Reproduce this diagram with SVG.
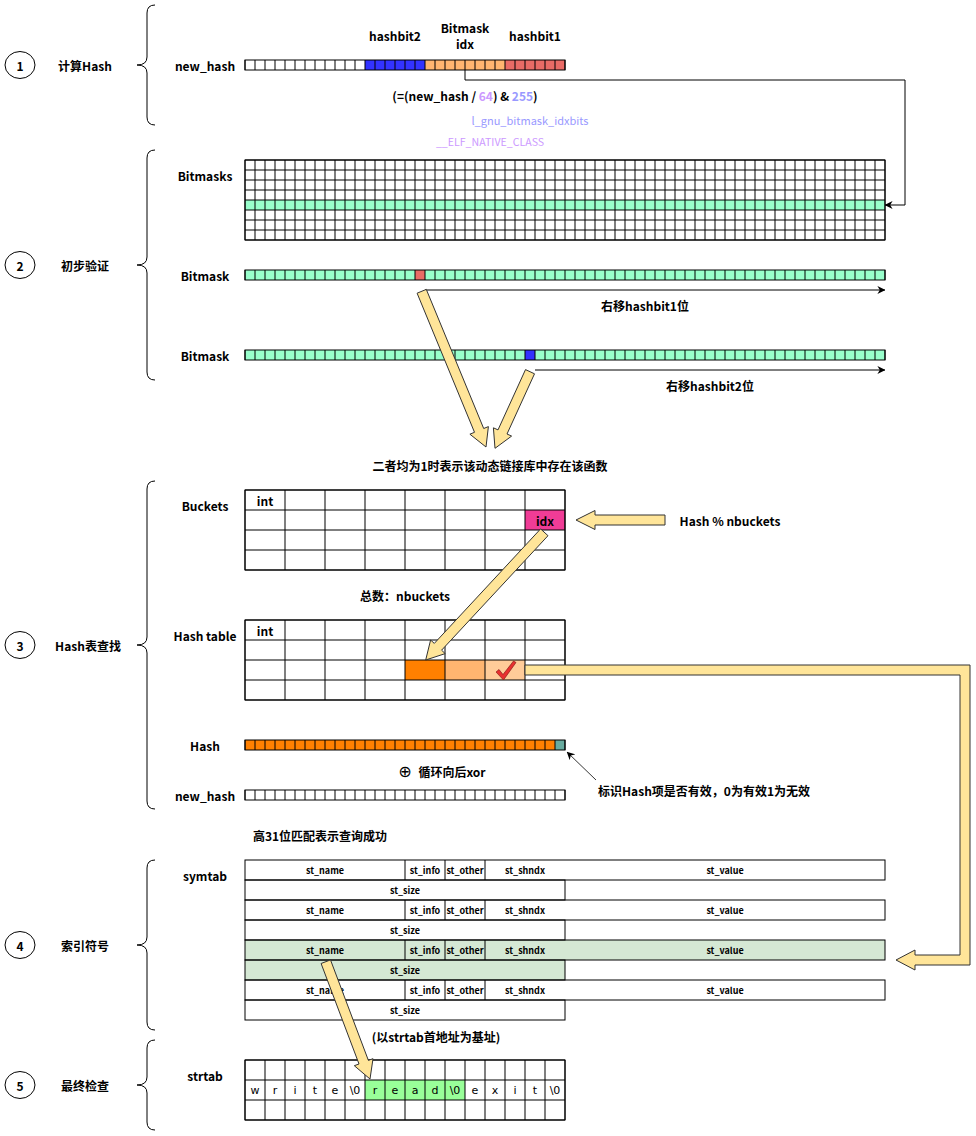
<svg xmlns="http://www.w3.org/2000/svg" width="976" height="1136" viewBox="0 0 976 1136">
<defs>
<style>
.lb{font-family:"Noto Sans CJK SC","Noto Sans",sans-serif;font-weight:bold;font-size:12px;fill:#000;text-anchor:middle;dominant-baseline:central}
.s12{font-size:12px}
.st{font-size:9px}
.lt{font-weight:normal;font-size:11px}
.ch{font-family:"DejaVu Sans",sans-serif;font-weight:normal;font-size:11px}
.ln{fill:none;stroke:#000;stroke-width:1}
.tk{fill:none;stroke:#000}
.thin{fill:none;stroke:#000;stroke-width:0.8}
.arw{fill:#ffe599;stroke:#333;stroke-width:1}
.br{fill:none;stroke:#000;stroke-width:1}
.circ{fill:#fff;stroke:#000;stroke-width:1}
</style>
<marker id="ah" viewBox="0 0 10 10" refX="9.5" refY="5" markerWidth="8" markerHeight="8" markerUnits="userSpaceOnUse" orient="auto"><path d="M0,0 L10,5 L0,10 L3,5 z" fill="#000"/></marker>
</defs>
<rect width="976" height="1136" fill="#fff"/>

<!-- step labels -->
<g id="step1">
<ellipse class="circ" cx="20" cy="65" rx="15" ry="13.5"/><text class="lb" x="20" y="65">1</text>
<text class="lb" x="85" y="65">计算Hash</text>
<path class="br" d="M155,5 Q147,5 147,13 L147,57 Q147,65 137,65 Q147,65 147,73 L147,117 Q147,125 155,125"/>
</g>
<g id="step2">
<ellipse class="circ" cx="20" cy="265" rx="15" ry="13.5"/><text class="lb" x="20" y="265">2</text>
<text class="lb" x="85" y="265">初步验证</text>
<path class="br" d="M155,150 Q147,150 147,158 L147,257 Q147,265 137,265 Q147,265 147,273 L147,372 Q147,380 155,380"/>
</g>
<g id="step3">
<ellipse class="circ" cx="20" cy="645" rx="15" ry="13.5"/><text class="lb" x="20" y="645">3</text>
<text class="lb" x="88" y="645">Hash表查找</text>
<path class="br" d="M155,481 Q147,481 147,489 L147,637 Q147,645 137,645 Q147,645 147,653 L147,801 Q147,809 155,809"/>
</g>
<g id="step4">
<ellipse class="circ" cx="20" cy="945" rx="15" ry="13.5"/><text class="lb" x="20" y="945">4</text>
<text class="lb" x="85" y="945">索引符号</text>
<path class="br" d="M155,860 Q147,860 147,868 L147,937 Q147,945 137,945 Q147,945 147,953 L147,1022 Q147,1030 155,1030"/>
</g>
<g id="step5">
<ellipse class="circ" cx="20" cy="1085" rx="15" ry="13.5"/><text class="lb" x="20" y="1085">5</text>
<text class="lb" x="85" y="1085">最终检查</text>
<path class="br" d="M155,1040 Q147,1040 147,1048 L147,1077 Q147,1085 137,1085 Q147,1085 147,1093 L147,1122 Q147,1130 155,1130"/>
</g>

<!-- step 1: new_hash -->
<g id="new_hash_1">
<text class="lb" x="205" y="65">new_hash</text>
<rect x="245" y="60" width="120" height="10" fill="#fff"/>
<rect x="365" y="60" width="60" height="10" fill="#3333ff"/>
<rect x="425" y="60" width="80" height="10" fill="#ffb570"/>
<rect x="505" y="60" width="60" height="10" fill="#ea6b66"/>
<line class="tk" x1="244.5" y1="65" x2="565.5" y2="65" stroke-width="10" stroke-dasharray="1 9"/>
<rect class="ln" x="245" y="60" width="320" height="10"/>
<text class="lb" x="395" y="35">hashbit2</text>
<text class="lb" x="465" y="27">Bitmask</text>
<text class="lb" x="465" y="43">idx</text>
<text class="lb" x="535" y="35">hashbit1</text>
<text class="lb" x="465" y="95">(=(new_hash / <tspan fill="#cc99ff">64</tspan>) &amp; <tspan fill="#9999ff">255</tspan>)</text>
<text class="lb lt" x="530" y="120" style="fill:#9999ff">l_gnu_bitmask_idxbits</text>
<text class="lb lt" x="490" y="141" style="fill:#cc99ff;font-size:10.6px">__ELF_NATIVE_CLASS</text>
</g>

<!-- step 2 -->
<g id="bitmasks">
<text class="lb" x="205" y="175">Bitmasks</text>
<rect x="245" y="200" width="640" height="10" fill="#99ffcc"/>
<line class="tk" x1="244.5" y1="200" x2="885.5" y2="200" stroke-width="80" stroke-dasharray="1 9"/>
<line class="tk" x1="565" y1="159.5" x2="565" y2="240.5" stroke-width="640" stroke-dasharray="1 9"/>
<rect class="ln" x="245" y="160" width="640" height="80"/>
</g>
<g id="bitmask_a">
<text class="lb" x="205" y="275">Bitmask</text>
<rect x="245" y="270" width="640" height="10" fill="#99ffcc"/>
<rect x="415" y="270" width="10" height="10" fill="#ea6b66"/>
<line class="tk" x1="244.5" y1="275" x2="885.5" y2="275" stroke-width="10" stroke-dasharray="1 9"/>
<rect class="ln" x="245" y="270" width="640" height="10"/>
<text class="lb" x="645" y="305">右移hashbit1位</text>
</g>
<g id="bitmask_b">
<text class="lb" x="205" y="355">Bitmask</text>
<rect x="245" y="350" width="640" height="10" fill="#99ffcc"/>
<rect x="525" y="350" width="10" height="10" fill="#3333ff"/>
<line class="tk" x1="244.5" y1="355" x2="885.5" y2="355" stroke-width="10" stroke-dasharray="1 9"/>
<rect class="ln" x="245" y="350" width="640" height="10"/>
<text class="lb" x="710" y="385">右移hashbit2位</text>
</g>
<g id="note_both">
<text class="lb s12" x="490" y="465">二者均为1时表示该动态链接库中存在该函数</text>
</g>

<!-- step 3 -->
<g id="buckets">
<text class="lb" x="205" y="505">Buckets</text>
<rect x="525" y="510" width="40" height="20" fill="#f03c96"/>
<line class="tk" x1="244.5" y1="530" x2="565.5" y2="530" stroke-width="80" stroke-dasharray="1 39"/>
<line class="tk" x1="405" y1="489.5" x2="405" y2="570.5" stroke-width="320" stroke-dasharray="1 19"/>
<rect class="ln" x="245" y="490" width="320" height="80"/>
<text class="lb" x="265" y="500">int</text>
<text class="lb" x="545" y="520">idx</text>
</g>
<g id="note_mod">
<text class="lb" x="730" y="520">Hash % nbuckets</text>
</g>
<g id="note_total">
<text class="lb" x="405" y="595">总数：nbuckets</text>
</g>
<g id="hash_table">
<text class="lb" x="205" y="635">Hash table</text>
<rect x="405" y="660" width="40" height="20" fill="#ff8000"/>
<rect x="445" y="660" width="40" height="20" fill="#ffb570"/>
<rect x="485" y="660" width="40" height="20" fill="#ffcc99"/>
<line class="tk" x1="244.5" y1="660" x2="565.5" y2="660" stroke-width="80" stroke-dasharray="1 39"/>
<line class="tk" x1="405" y1="619.5" x2="405" y2="700.5" stroke-width="320" stroke-dasharray="1 19"/>
<rect class="ln" x="245" y="620" width="320" height="80"/>
<text class="lb" x="265" y="630">int</text>
<path d="M496,672 L499,669.5 L503,674.5 L513.5,661 L516,662.5 L503.5,680 Z" fill="#e8302f" stroke="#7a1010" stroke-width="0.6"/>
</g>
<g id="hash_row">
<text class="lb" x="205" y="745">Hash</text>
<rect x="245" y="740" width="310" height="10" fill="#ff8000"/>
<rect x="555" y="740" width="10" height="10" fill="#67ab9f"/>
<line class="tk" x1="244.5" y1="745" x2="565.5" y2="745" stroke-width="10" stroke-dasharray="1 9"/>
<rect class="ln" x="245" y="740" width="320" height="10"/>
</g>
<g id="note_xor">
<text class="lb ch" x="405" y="771" style="font-size:16px">⊕</text>
<text class="lb" x="452" y="771">循环向后xor</text>
</g>
<g id="note_valid">
<text class="lb s12" x="704" y="790">标识Hash项是否有效，0为有效1为无效</text>
</g>
<g id="new_hash_3">
<text class="lb" x="205" y="795">new_hash</text>
<rect x="245" y="790" width="320" height="10" fill="#fff"/>
<line class="tk" x1="244.5" y1="795" x2="565.5" y2="795" stroke-width="10" stroke-dasharray="1 9"/>
<rect class="ln" x="245" y="790" width="320" height="10"/>
</g>
<g id="note_match">
<text class="lb s12" x="320" y="835">高31位匹配表示查询成功</text>
</g>

<!-- step 4 symtab -->
<g id="symtab">
<text class="lb" x="205" y="875">symtab</text>
<rect x="245" y="940" width="640" height="20" fill="#d5e8d4"/>
<rect x="245" y="960" width="320" height="20" fill="#d5e8d4"/>
<g class="ln">
<rect x="245" y="860" width="640" height="20"/>
<rect x="245" y="900" width="640" height="20"/>
<rect x="245" y="940" width="640" height="20"/>
<rect x="245" y="980" width="640" height="20"/>
<rect x="245" y="880" width="320" height="20"/>
<rect x="245" y="920" width="320" height="20"/>
<rect x="245" y="960" width="320" height="20"/>
<rect x="245" y="1000" width="320" height="20"/>
<path d="M405,860v20M445,860v20M485,860v20M405,900v20M445,900v20M485,900v20M405,940v20M445,940v20M485,940v20M405,980v20M445,980v20M485,980v20"/>
</g>
<g class="lb st">
<text x="325" y="870">st_name</text><text x="425" y="870">st_info</text><text x="465" y="870">st_other</text><text x="525" y="870">st_shndx</text><text x="725" y="870">st_value</text>
<text x="405" y="890">st_size</text>
<text x="325" y="910">st_name</text><text x="425" y="910">st_info</text><text x="465" y="910">st_other</text><text x="525" y="910">st_shndx</text><text x="725" y="910">st_value</text>
<text x="405" y="930">st_size</text>
<text x="325" y="950">st_name</text><text x="425" y="950">st_info</text><text x="465" y="950">st_other</text><text x="525" y="950">st_shndx</text><text x="725" y="950">st_value</text>
<text x="405" y="970">st_size</text>
<text x="325" y="990">st_name</text><text x="425" y="990">st_info</text><text x="465" y="990">st_other</text><text x="525" y="990">st_shndx</text><text x="725" y="990">st_value</text>
<text x="405" y="1010">st_size</text>
</g>
</g>
<g id="note_base">
<text class="lb" x="436" y="1036">(以strtab首地址为基址)</text>
</g>

<!-- step 5 strtab -->
<g id="strtab">
<text class="lb" x="205" y="1075">strtab</text>
<rect x="365" y="1080" width="100" height="20" fill="#99ff99"/>
<line class="tk" x1="244.5" y1="1090" x2="565.5" y2="1090" stroke-width="60" stroke-dasharray="1 19"/>
<line class="tk" x1="405" y1="1059.5" x2="405" y2="1120.5" stroke-width="320" stroke-dasharray="1 19"/>
<rect class="ln" x="245" y="1060" width="320" height="60"/>
<g class="lb ch">
<text x="255" y="1090">w</text><text x="275" y="1090">r</text><text x="295" y="1090">i</text><text x="315" y="1090">t</text><text x="335" y="1090">e</text><text x="355" y="1090">\0</text>
<text x="375" y="1090">r</text><text x="395" y="1090">e</text><text x="415" y="1090">a</text><text x="435" y="1090">d</text><text x="455" y="1090">\0</text>
<text x="475" y="1090">e</text><text x="495" y="1090">x</text><text x="515" y="1090">i</text><text x="535" y="1090">t</text><text x="555" y="1090">\0</text>
</g>
</g>

<!-- connectors -->
<g id="connectors">
<polyline class="ln" points="465,70 465,80 905,80 905,205 885,205" marker-end="url(#ah)"/>
<line class="ln" x1="425" y1="290" x2="885" y2="290" marker-end="url(#ah)"/>
<line class="ln" x1="535" y1="370" x2="885" y2="370" marker-end="url(#ah)"/>
<line class="thin" x1="596" y1="780" x2="567" y2="752" marker-end="url(#ah)"/>
<polygon class="arw" points="417.1,293.2 474.5,432.3 469.9,434.2 486,447 488.4,426.6 483.7,428.5 426.3,289.4"/>
<polygon class="arw" points="525.5,369.6 498,429.9 493.4,427.8 495,448.3 511.6,436.1 507,434 534.5,373.8"/>
<polygon class="arw" points="665,515 595,515 595,510.5 576,520 595,529.5 595,525 665,525"/>
<polygon class="arw" points="540.6,528.9 434.3,643.4 430.6,640 425.7,660 445.2,653.6 441.6,650.2 548,535.7"/>
<polygon class="arw" points="525,665 970,665 970,965 915,965 915,970 896,960 915,950 915,955 960,955 960,675 525,675"/>
<polygon class="arw" points="321.1,963.5 359,1064 354.3,1065.7 370,1079 373,1058.7 368.4,1060.4 330.5,959.9"/>
</g>
</svg>
